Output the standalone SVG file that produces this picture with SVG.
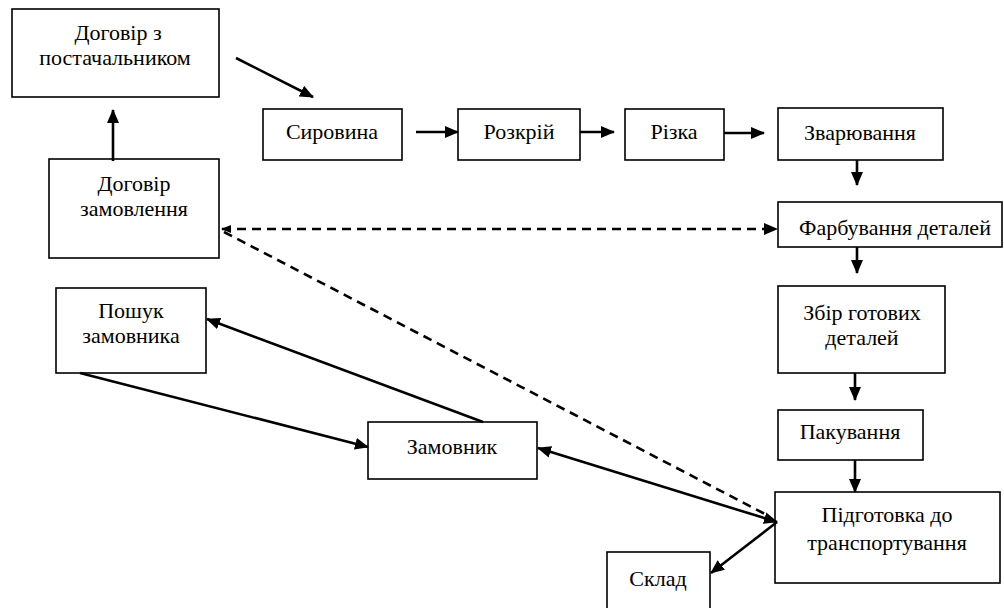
<svg xmlns="http://www.w3.org/2000/svg" width="1004" height="608" viewBox="0 0 1004 608">
<style>
.box{fill:#fff;stroke:#000;stroke-width:1.6}
text{font-family:"Liberation Serif","Times New Roman",serif;font-size:22px;fill:#000;text-anchor:middle}
.c{stroke:#000;stroke-width:2.6;fill:none}
.d{stroke:#000;stroke-width:2.6;fill:none;stroke-dasharray:9 6}
</style>
<defs>
<marker id="ah" viewBox="0 0 14 12" refX="13" refY="6" markerWidth="14" markerHeight="12" markerUnits="userSpaceOnUse" orient="auto-start-reverse">
<path d="M0,0 L14,6 L0,12 Z" fill="#000"/>
</marker>
<marker id="ahs" viewBox="0 0 10 8" refX="9" refY="4" markerWidth="10" markerHeight="8" markerUnits="userSpaceOnUse" orient="auto-start-reverse">
<path d="M0,0 L10,4 L0,8 Z" fill="#000"/>
</marker>
</defs>
<rect width="1004" height="608" fill="#fff"/>
<g id="n1"><rect class="box" x="12" y="9" width="207" height="88"/><text x="118" y="40">Договір з</text><text x="115" y="65">постачальником</text></g>
<g id="n2"><rect class="box" x="49" y="159" width="170" height="99"/><text x="134" y="191">Договір</text><text x="134" y="216">замовлення</text></g>
<g id="n3"><rect class="box" x="263" y="109" width="139" height="51"/><text x="332" y="139">Сировина</text></g>
<g id="n4"><rect class="box" x="458" y="109" width="122" height="51"/><text x="519" y="139">Розкрій</text></g>
<g id="n5"><rect class="box" x="625" y="109" width="99" height="51"/><text x="674" y="139">Різка</text></g>
<g id="n6"><rect class="box" x="778" y="108" width="165" height="52"/><text x="860" y="140">Зварювання</text></g>
<g id="n7"><rect class="box" x="778" y="202" width="224" height="45"/><text x="895" y="235">Фарбування деталей</text></g>
<g id="n8"><rect class="box" x="778" y="286" width="167" height="87"/><text x="862" y="320">Збір готових</text><text x="862" y="345">деталей</text></g>
<g id="n9"><rect class="box" x="778" y="410" width="145" height="50"/><text x="850" y="439">Пакування</text></g>
<g id="n10"><rect class="box" x="775" y="492" width="225" height="91"/><text x="887" y="522">Підготовка до</text><text x="887" y="550">транспортування</text></g>
<g id="n11"><rect class="box" x="56" y="288" width="150" height="85"/><text x="131" y="318">Пошук</text><text x="131" y="343">замовника</text></g>
<g id="n12"><rect class="box" x="368" y="422" width="169" height="57"/><text x="452" y="454">Замовник</text></g>
<g id="n13"><rect class="box" x="607" y="552" width="103" height="62"/><text x="658" y="586">Склад</text></g>
<g id="connectors">
<line class="c" x1="113" y1="161" x2="113" y2="110" marker-end="url(#ah)"/>
<line class="c" x1="236" y1="58" x2="313" y2="97" marker-end="url(#ah)"/>
<line class="c" x1="416" y1="132" x2="458" y2="132" marker-end="url(#ah)"/>
<line class="c" x1="580" y1="132" x2="614" y2="132" marker-end="url(#ah)"/>
<line class="c" x1="724" y1="133" x2="764" y2="133" marker-end="url(#ah)"/>
<line class="c" x1="857" y1="160" x2="857" y2="185" marker-end="url(#ah)"/>
<line class="c" x1="857" y1="247" x2="857" y2="273" marker-end="url(#ah)"/>
<line class="c" x1="855" y1="373" x2="855" y2="400" marker-end="url(#ah)"/>
<line class="c" x1="855" y1="460" x2="855" y2="492" marker-end="url(#ah)"/>
<line class="d" x1="222" y1="229" x2="777" y2="229" marker-start="url(#ahs)" marker-end="url(#ah)"/>
<line class="d" x1="224" y1="232" x2="765" y2="514"/>
<line class="c" x1="80" y1="373" x2="368" y2="447" marker-end="url(#ah)"/>
<line class="c" x1="483" y1="422" x2="207" y2="319" marker-end="url(#ah)"/>
<line class="c" x1="538" y1="448" x2="777" y2="522" marker-start="url(#ah)" marker-end="url(#ah)"/>
<line class="c" x1="777" y1="522" x2="711" y2="573" marker-end="url(#ah)"/>
</g>
</svg>
